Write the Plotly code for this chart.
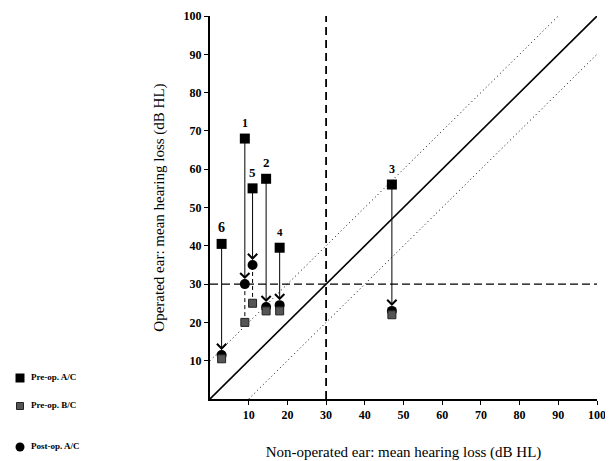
import plotly.graph_objects as go

# ---- data ----
cases = ["1", "2", "3", "4", "5", "6"]
non_op_x = [9, 14.5, 47, 18, 11, 3]
pre_ac = [68, 57.5, 56, 39.5, 55, 40.5]
pre_bc = [20, 23, 22, 23, 25, 10.5]
post_ac = [30, 24, 23, 24.5, 35, 11.5]
dashed_cases = ["1", "5"]  # B/C joined to post-op A/C by dashed line

ref_diag_x = [0, 100]
ref_diag_y = [0, 100]
upper_x = [0, 90]
upper_y = [10, 100]
lower_x = [10, 100]
lower_y = [0, 90]
cutoff = 30
axis_max = 100
tick_vals = [10, 20, 30, 40, 50, 60, 70, 80, 90, 100]

legend_labels = ["Pre-op. A/C", "Pre-op. B/C", "Post-op. A/C"]
legend_rows = [83, 55, 14]  # key rows on the key axis (0-100)

# page body has an 8px margin, so the figure is sized to fill the rest of the window
OFF = 8
W, H = 613 - OFF, 461 - OFF
SERIF = "Liberation Serif, Times New Roman, serif"

fig = go.Figure()

# reference lines
fig.add_trace(go.Scatter(x=ref_diag_x, y=ref_diag_y, mode="lines",
                         line=dict(color="black", width=1.6), showlegend=False, hoverinfo="skip"))
fig.add_trace(go.Scatter(x=upper_x, y=upper_y, mode="lines",
                         line=dict(color="black", width=1, dash="1px,3px"), showlegend=False, hoverinfo="skip"))
fig.add_trace(go.Scatter(x=lower_x, y=lower_y, mode="lines",
                         line=dict(color="black", width=1, dash="1px,3px"), showlegend=False, hoverinfo="skip"))
fig.add_trace(go.Scatter(x=[cutoff, cutoff], y=[0, axis_max], mode="lines",
                         line=dict(color="black", width=1.8, dash="8px,5px"), showlegend=False, hoverinfo="skip"))
fig.add_trace(go.Scatter(x=[0, axis_max], y=[cutoff, cutoff], mode="lines",
                         line=dict(color="black", width=1.1, dash="8px,4px"), showlegend=False, hoverinfo="skip"))

# dashed connectors post A/C -> B/C
for c, xv, pa, bc in zip(cases, non_op_x, post_ac, pre_bc):
    if c in dashed_cases:
        fig.add_trace(go.Scatter(x=[xv, xv], y=[pa, bc], mode="lines",
                                 line=dict(color="black", width=1, dash="4px,3px"),
                                 showlegend=False, hoverinfo="skip"))

# marker styles
sty_pre = dict(symbol="square", size=10, color="black")
sty_bc = dict(symbol="square", size=8, color="#555555", line=dict(color="#222222", width=1))
sty_post = dict(symbol="circle", size=10, color="black")

fig.add_trace(go.Scatter(x=non_op_x, y=pre_ac, mode="markers", name=legend_labels[0],
                         marker=sty_pre, showlegend=False))
fig.add_trace(go.Scatter(x=non_op_x, y=post_ac, mode="markers", name=legend_labels[2],
                         marker=sty_post, showlegend=False))
fig.add_trace(go.Scatter(x=non_op_x, y=pre_bc, mode="markers", name=legend_labels[1],
                         marker=sty_bc, showlegend=False))

# arrows pre -> post and case labels
label_sizes = {"1": 12, "2": 13, "3": 12, "4": 11, "5": 13, "6": 14}
for c, xv, pa, po in zip(cases, non_op_x, pre_ac, post_ac):
    fig.add_annotation(x=xv, y=po, ax=xv, ay=pa, xref="x", yref="y", axref="x", ayref="y",
                       showarrow=True, arrowhead=4, arrowsize=1.8, arrowwidth=1,
                       arrowcolor="black", standoff=5, text="")
    fig.add_annotation(x=xv, y=pa, xref="x", yref="y", text=c, showarrow=False,
                       yshift=16, font=dict(family=SERIF, size=label_sizes[c], color="black", weight="bold"))

# key (drawn on its own hidden axes in the lower-left corner)
key_styles = [sty_pre, sty_bc, sty_post]
for lab, row, st in zip(legend_labels, legend_rows, key_styles):
    st2 = dict(st)
    st2["size"] = st["size"] - 1
    fig.add_trace(go.Scatter(x=[20], y=[row], mode="markers", marker=st2,
                             xaxis="x2", yaxis="y2", showlegend=False, hoverinfo="skip"))
    fig.add_trace(go.Scatter(x=[31], y=[row], mode="text", text=[lab], textposition="middle right",
                             textfont=dict(family=SERIF, size=9, color="black", weight="bold"),
                             xaxis="x2", yaxis="y2", showlegend=False, hoverinfo="skip"))

tickfont = dict(family=SERIF, size=12, color="black", weight="bold")

fig.update_layout(
    width=W, height=H,
    margin=dict(l=0, r=0, t=0, b=0),
    plot_bgcolor="white", paper_bgcolor="white",
    showlegend=False,
    xaxis=dict(domain=[(210 - OFF) / W, (597 - OFF) / W], range=[0, axis_max], tickvals=tick_vals,
               showgrid=False, zeroline=False,
               showline=True, linecolor="black", linewidth=2, ticks="outside", ticklen=4,
               tickcolor="black", tickfont=tickfont, automargin=False,
               title=dict(text="Non-operated ear: mean hearing loss (dB HL)",
                          font=dict(family=SERIF, size=15, color="black"), standoff=30)),
    yaxis=dict(domain=[(461 - 399) / H, (461 - 16) / H], range=[0, axis_max], tickvals=tick_vals,
               showgrid=False, zeroline=False,
               showline=True, linecolor="black", linewidth=2, ticks="outside", ticklen=4,
               tickcolor="black", tickfont=tickfont, automargin=False,
               title=dict(text="Operated ear: mean hearing loss (dB HL)",
                          font=dict(family=SERIF, size=15, color="black"), standoff=15)),
    xaxis2=dict(domain=[0, (184 - OFF) / W], range=[OFF, 184], visible=False, fixedrange=True),
    yaxis2=dict(domain=[0, 100 / H], range=[0, 100], visible=False, fixedrange=True,
                anchor="x2"),
)

fig.write_html("out.html")
